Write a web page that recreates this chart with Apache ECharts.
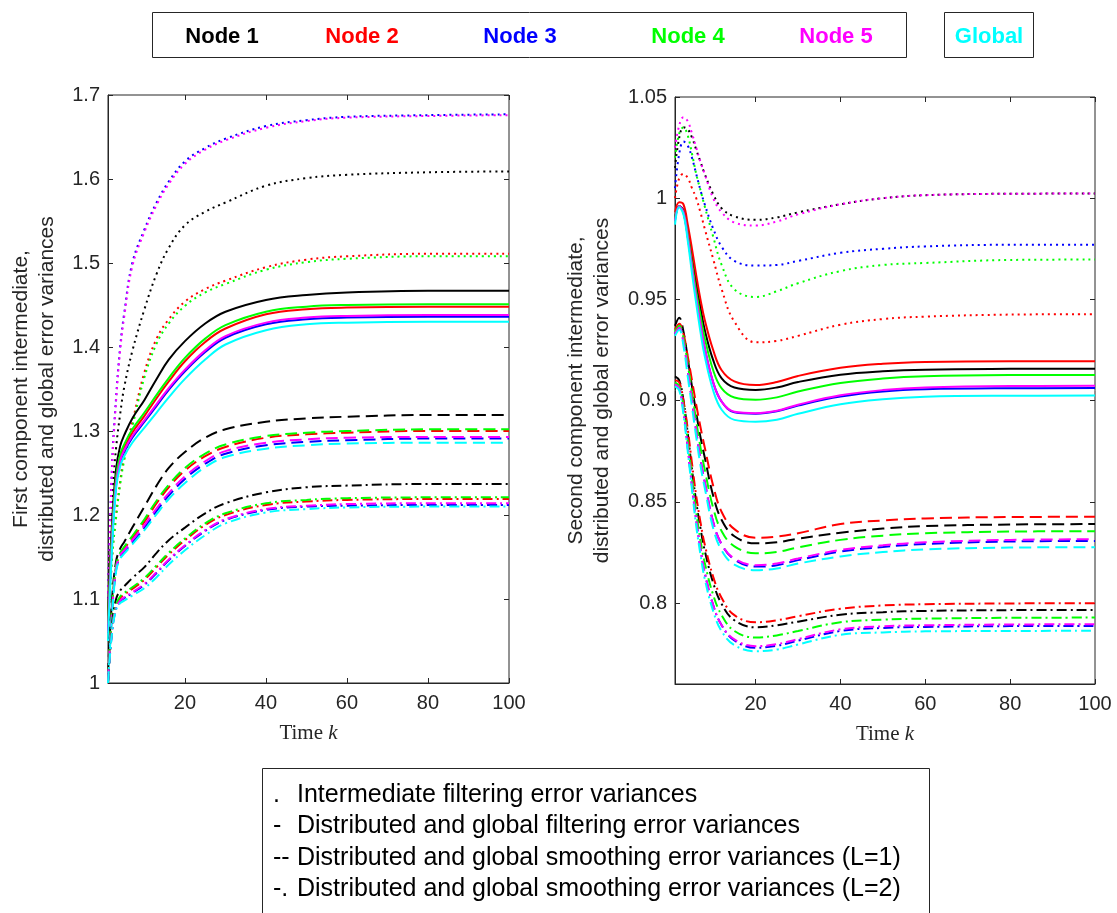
<!DOCTYPE html>
<html>
<head>
<meta charset="utf-8">
<title>Error variances</title>
<script src="https://cdn.jsdelivr.net/npm/echarts@6/dist/echarts.min.js"></script>
<style>
  html, body { margin: 0; padding: 0; background: #fff; }
  #chart { width: 1117px; height: 913px; }
</style>
</head>
<body>
<div id="chart"></div>
<script>
// time instants
const kLeft = [1, 2, 3, 4, 5, 7, 10, 13, 16, 20, 25, 30, 40, 50, 60, 80, 100];
const kRight = [1, 2, 3, 4, 5, 6, 7, 8, 10, 12, 15, 20, 25, 30, 40, 50, 60, 80, 100];

const nodeNames = ['Node 1', 'Node 2', 'Node 3', 'Node 4', 'Node 5', 'Global'];
const nodeColors = ['#000000', '#ff0000', '#0000ff', '#00ff00', '#ff00ff', '#00ffff'];

const xTicks = [20, 40, 60, 80, 100];
const firstYTicks = [1, 1.1, 1.2, 1.3, 1.4, 1.5, 1.6, 1.7];
const secondYTicks = [0.8, 0.85, 0.9, 0.95, 1, 1.05];

// ---- first component (left) ----
// intermediate filtering, nodes 1..5 (dotted)
const firstIntermediate = [
  [1.10, 1.22, 1.28, 1.32, 1.352, 1.395, 1.445, 1.487, 1.518, 1.545, 1.561, 1.572, 1.592, 1.601, 1.605, 1.608, 1.609],
  [1.06, 1.15, 1.20, 1.24, 1.27, 1.31, 1.37, 1.41, 1.433, 1.454, 1.469, 1.479, 1.495, 1.504, 1.508, 1.511, 1.511],
  [1.10, 1.26, 1.34, 1.40, 1.44, 1.50, 1.54, 1.572, 1.597, 1.621, 1.637, 1.648, 1.663, 1.670, 1.674, 1.676, 1.677],
  [1.06, 1.148, 1.197, 1.236, 1.265, 1.305, 1.364, 1.404, 1.428, 1.449, 1.465, 1.475, 1.492, 1.501, 1.505, 1.508, 1.508],
  [1.10, 1.255, 1.336, 1.396, 1.436, 1.496, 1.537, 1.569, 1.594, 1.618, 1.635, 1.646, 1.661, 1.669, 1.673, 1.675, 1.676]
];
// distributed and global filtering (solid), nodes 1..5 + global
const firstFiltering = [
  [1.08, 1.19, 1.255, 1.282, 1.295, 1.315, 1.337, 1.362, 1.385, 1.407, 1.428, 1.442, 1.456, 1.462, 1.465, 1.467, 1.467],
  [1.07, 1.178, 1.242, 1.268, 1.28, 1.298, 1.318, 1.339, 1.359, 1.383, 1.406, 1.422, 1.439, 1.445, 1.447, 1.448, 1.448],
  [1.06, 1.168, 1.236, 1.263, 1.275, 1.292, 1.311, 1.33, 1.349, 1.371, 1.394, 1.411, 1.427, 1.433, 1.435, 1.436, 1.436],
  [1.07, 1.18, 1.245, 1.272, 1.284, 1.302, 1.322, 1.343, 1.363, 1.387, 1.41, 1.426, 1.442, 1.448, 1.45, 1.451, 1.451],
  [1.06, 1.17, 1.238, 1.265, 1.277, 1.294, 1.313, 1.332, 1.351, 1.373, 1.396, 1.413, 1.429, 1.435, 1.437, 1.438, 1.438],
  [1.05, 1.16, 1.232, 1.258, 1.27, 1.286, 1.304, 1.322, 1.34, 1.362, 1.385, 1.403, 1.42, 1.427, 1.429, 1.43, 1.43]
];
// smoothing L=1 (dashed)
const firstSmoothL1 = [
  [1.01, 1.10, 1.145, 1.16, 1.168, 1.185, 1.21, 1.235, 1.256, 1.275, 1.292, 1.302, 1.311, 1.315, 1.317, 1.319, 1.319],
  [1.005, 1.088, 1.138, 1.153, 1.16, 1.172, 1.192, 1.214, 1.233, 1.253, 1.27, 1.281, 1.292, 1.296, 1.298, 1.30, 1.30],
  [1.002, 1.083, 1.135, 1.15, 1.156, 1.167, 1.185, 1.205, 1.223, 1.243, 1.261, 1.273, 1.283, 1.287, 1.289, 1.291, 1.291],
  [1.005, 1.09, 1.14, 1.155, 1.162, 1.175, 1.195, 1.217, 1.236, 1.256, 1.273, 1.284, 1.294, 1.298, 1.30, 1.302, 1.302],
  [1.003, 1.085, 1.137, 1.152, 1.158, 1.17, 1.188, 1.208, 1.226, 1.246, 1.264, 1.276, 1.286, 1.29, 1.292, 1.293, 1.293],
  [1.0, 1.08, 1.133, 1.148, 1.154, 1.165, 1.182, 1.201, 1.219, 1.238, 1.257, 1.269, 1.279, 1.283, 1.285, 1.286, 1.286]
];
// smoothing L=2 (dash-dot)
const firstSmoothL2 = [
  [1.0, 1.07, 1.10, 1.11, 1.115, 1.125, 1.138, 1.155, 1.17, 1.185, 1.202, 1.214, 1.227, 1.233, 1.235, 1.237, 1.237],
  [1.0, 1.064, 1.091, 1.101, 1.105, 1.112, 1.123, 1.138, 1.153, 1.17, 1.188, 1.20, 1.212, 1.216, 1.218, 1.219, 1.219],
  [1.0, 1.061, 1.089, 1.097, 1.101, 1.107, 1.117, 1.131, 1.146, 1.163, 1.181, 1.194, 1.206, 1.21, 1.211, 1.212, 1.212],
  [1.0, 1.065, 1.093, 1.103, 1.107, 1.114, 1.125, 1.14, 1.155, 1.172, 1.19, 1.202, 1.214, 1.218, 1.22, 1.221, 1.221],
  [1.0, 1.062, 1.09, 1.098, 1.102, 1.108, 1.118, 1.132, 1.147, 1.164, 1.182, 1.195, 1.207, 1.211, 1.213, 1.214, 1.214],
  [1.0, 1.06, 1.087, 1.095, 1.098, 1.104, 1.113, 1.126, 1.141, 1.158, 1.176, 1.19, 1.203, 1.207, 1.209, 1.21, 1.21]
];

// ---- second component (right) ----
const secondIntermediate = [
  [1.015, 1.03, 1.035, 1.034, 1.03, 1.024, 1.018, 1.012, 1.002, 0.995, 0.991, 0.9893, 0.9905, 0.993, 0.997, 1.0, 1.0015, 1.0022, 1.0023],
  [1.0, 1.01, 1.012, 1.01, 1.005, 1.0, 0.993, 0.985, 0.97, 0.955, 0.939, 0.9288, 0.9295, 0.932, 0.9375, 0.9403, 0.9415, 0.9425, 0.9427],
  [1.005, 1.022, 1.028, 1.026, 1.02, 1.012, 1.004, 0.997, 0.985, 0.976, 0.969, 0.9667, 0.967, 0.969, 0.973, 0.975, 0.9762, 0.977, 0.977],
  [1.02, 1.032, 1.035, 1.031, 1.022, 1.012, 1.004, 0.996, 0.981, 0.967, 0.955, 0.9512, 0.954, 0.958, 0.964, 0.967, 0.968, 0.9695, 0.9697],
  [1.025, 1.036, 1.04, 1.038, 1.032, 1.025, 1.018, 1.012, 1.0, 0.993, 0.988, 0.9865, 0.9885, 0.992, 0.997, 1.0, 1.0015, 1.0022, 1.0023]
];
const secondFiltering = [
  [0.99, 0.996, 0.994, 0.984, 0.971, 0.958, 0.946, 0.935, 0.92, 0.911, 0.9065, 0.9053, 0.9065, 0.9092, 0.9128, 0.9145, 0.9153, 0.9157, 0.9158],
  [0.993, 0.998, 0.997, 0.987, 0.975, 0.962, 0.95, 0.94, 0.925, 0.915, 0.9095, 0.9077, 0.9092, 0.9122, 0.9162, 0.9182, 0.9191, 0.9195, 0.9195],
  [0.989, 0.996, 0.993, 0.981, 0.966, 0.951, 0.938, 0.926, 0.909, 0.8995, 0.8942, 0.8935, 0.8947, 0.8976, 0.902, 0.9045, 0.9056, 0.9061, 0.9062],
  [0.99, 0.996, 0.993, 0.982, 0.968, 0.954, 0.942, 0.931, 0.915, 0.906, 0.9015, 0.9004, 0.9016, 0.9045, 0.9087, 0.9109, 0.912, 0.9126, 0.9127],
  [0.989, 0.996, 0.993, 0.981, 0.966, 0.951, 0.938, 0.926, 0.909, 0.8995, 0.8945, 0.8938, 0.895, 0.898, 0.9026, 0.9052, 0.9065, 0.9072, 0.9073],
  [0.987, 0.9955, 0.992, 0.979, 0.963, 0.948, 0.934, 0.922, 0.905, 0.8955, 0.8905, 0.8896, 0.8906, 0.8935, 0.8982, 0.9007, 0.9019, 0.9024, 0.9025]
];
const secondSmoothL1 = [
  [0.937, 0.941, 0.934, 0.921, 0.907, 0.894, 0.882, 0.872, 0.853, 0.841, 0.833, 0.8295, 0.83, 0.8318, 0.8347, 0.8368, 0.838, 0.8388, 0.839],
  [0.935, 0.938, 0.933, 0.922, 0.91, 0.898, 0.887, 0.877, 0.858, 0.845, 0.8365, 0.8322, 0.8328, 0.8345, 0.839, 0.8408, 0.8418, 0.8425, 0.8426],
  [0.933, 0.936, 0.929, 0.915, 0.90, 0.885, 0.871, 0.86, 0.84, 0.829, 0.8215, 0.818, 0.8187, 0.8212, 0.8254, 0.8277, 0.8292, 0.8304, 0.8307],
  [0.934, 0.937, 0.931, 0.918, 0.904, 0.89, 0.877, 0.866, 0.847, 0.8355, 0.828, 0.8246, 0.8252, 0.8275, 0.8312, 0.8333, 0.8345, 0.8353, 0.8355],
  [0.933, 0.936, 0.929, 0.915, 0.90, 0.885, 0.871, 0.86, 0.84, 0.829, 0.822, 0.8187, 0.8195, 0.822, 0.8262, 0.8285, 0.83, 0.8312, 0.8315],
  [0.932, 0.935, 0.927, 0.912, 0.897, 0.882, 0.868, 0.857, 0.837, 0.826, 0.819, 0.8162, 0.8171, 0.8195, 0.823, 0.8252, 0.8265, 0.8274, 0.8276]
];
const secondSmoothL2 = [
  [0.912, 0.91, 0.90, 0.884, 0.866, 0.85, 0.837, 0.826, 0.81, 0.7995, 0.7915, 0.788, 0.789, 0.7908, 0.7942, 0.7955, 0.7961, 0.7965, 0.7966],
  [0.91, 0.909, 0.90, 0.886, 0.869, 0.853, 0.84, 0.829, 0.813, 0.8025, 0.794, 0.7905, 0.7915, 0.7935, 0.7972, 0.7988, 0.7994, 0.7998, 0.7999],
  [0.908, 0.906, 0.895, 0.877, 0.858, 0.841, 0.827, 0.815, 0.799, 0.789, 0.7815, 0.7779, 0.7789, 0.7814, 0.7862, 0.7877, 0.7882, 0.7886, 0.7887],
  [0.909, 0.907, 0.897, 0.88, 0.862, 0.845, 0.831, 0.82, 0.804, 0.794, 0.7862, 0.783, 0.784, 0.7862, 0.7905, 0.7918, 0.7923, 0.7927, 0.7928],
  [0.908, 0.906, 0.895, 0.877, 0.858, 0.841, 0.827, 0.815, 0.799, 0.789, 0.782, 0.7787, 0.7797, 0.7822, 0.787, 0.7885, 0.789, 0.7894, 0.7895],
  [0.907, 0.905, 0.893, 0.875, 0.856, 0.838, 0.824, 0.812, 0.796, 0.786, 0.7792, 0.7762, 0.777, 0.7795, 0.7843, 0.7855, 0.786, 0.7862, 0.7863]
];

const axisColor = '#262626';
const sansFont = '"Liberation Sans", Arial, Helvetica, sans-serif';
const serifFont = '"Liberation Serif", "DejaVu Serif", serif';
const dashTypes = {
  dotted: [2, 4],
  solid: 'solid',
  dashed: [12, 6],
  dashdot: [10, 4, 2, 4]
};

function buildSeries(ks, group, style, panel) {
  return group.map((vals, i) => ({
    name: nodeNames[i],
    type: 'line',
    xAxisIndex: panel * 2,
    yAxisIndex: panel * 2,
    data: ks.map((k, j) => [k, vals[j]]),
    symbol: 'none',
    smooth: 0.4,
    silent: true,
    lineStyle: { color: nodeColors[i], width: 2, type: dashTypes[style], cap: 'butt' }
  }));
}

function xAxisPair(gridIndex) {
  const tick = { show: true, inside: true, length: 5, customValues: xTicks, lineStyle: { color: axisColor } };
  return [
    {
      type: 'value', gridIndex, position: 'bottom', min: 1, max: 100,
      axisLine: { show: true, lineStyle: { color: axisColor } },
      axisTick: tick,
      axisLabel: { customValues: xTicks, color: axisColor, fontSize: 20, margin: 10, fontFamily: sansFont },
      splitLine: { show: false },
      name: '{t|Time }{k|k}',
      nameLocation: 'middle',
      nameGap: 40,
      nameTextStyle: {
        rich: {
          t: { fontFamily: serifFont, fontSize: 21, color: axisColor },
          k: { fontFamily: serifFont, fontSize: 21, fontStyle: 'italic', color: axisColor }
        }
      }
    },
    {
      type: 'value', gridIndex, position: 'top', min: 1, max: 100,
      axisLine: { show: false },
      axisTick: tick,
      axisLabel: { show: false },
      splitLine: { show: false }
    }
  ];
}

function yAxisPair(gridIndex, min, max, ticks, title, gap) {
  const tick = { show: true, inside: true, length: 5, customValues: ticks, lineStyle: { color: axisColor } };
  return [
    {
      type: 'value', gridIndex, position: 'left', min, max,
      axisLine: { show: true, lineStyle: { color: axisColor } },
      axisTick: tick,
      axisLabel: { customValues: ticks, color: axisColor, fontSize: 20, margin: 8, fontFamily: sansFont },
      splitLine: { show: false },
      name: title,
      nameLocation: 'middle',
      nameRotate: 90,
      nameGap: gap,
      nameTextStyle: { color: axisColor, fontSize: 21, lineHeight: 26, fontFamily: sansFont }
    },
    {
      type: 'value', gridIndex, position: 'right', min, max,
      axisLine: { show: false },
      axisTick: tick,
      axisLabel: { show: false },
      splitLine: { show: false }
    }
  ];
}

// legend boxes drawn as graphics (real text)
const topLegendX = [222, 362, 520, 688, 836];
const bottomLegendPrefix = ['.', '-', '--', '-.'];
const bottomLegendText = [
  'Intermediate filtering error variances',
  'Distributed and global filtering error variances',
  'Distributed and global smoothing error variances (L=1)',
  'Distributed and global smoothing error variances (L=2)'
];

const graphics = [
  { type: 'rect', shape: { x: 152.5, y: 12.5, width: 754, height: 45 }, style: { fill: '#fff', stroke: axisColor, lineWidth: 1 } },
  { type: 'rect', shape: { x: 944.5, y: 12.5, width: 89, height: 45 }, style: { fill: '#fff', stroke: axisColor, lineWidth: 1 } },
  { type: 'rect', shape: { x: 262.5, y: 768.5, width: 667, height: 170 }, style: { fill: '#fff', stroke: axisColor, lineWidth: 1 } }
];
topLegendX.forEach((x, i) => {
  graphics.push({
    type: 'text', x, y: 37,
    style: { text: nodeNames[i], fill: nodeColors[i], font: 'bold 22px ' + sansFont, textAlign: 'center', textVerticalAlign: 'middle' }
  });
});
graphics.push({
  type: 'text', x: 989, y: 37,
  style: { text: nodeNames[5], fill: nodeColors[5], font: 'bold 22px ' + sansFont, textAlign: 'center', textVerticalAlign: 'middle' }
});
bottomLegendText.forEach((t, i) => {
  const y = 795 + i * 31.5;
  graphics.push({
    type: 'text', x: 273, y,
    style: { text: bottomLegendPrefix[i], fill: '#000', font: '25px ' + sansFont, textVerticalAlign: 'middle' }
  });
  graphics.push({
    type: 'text', x: 297, y,
    style: { text: t, fill: '#000', font: '25px ' + sansFont, textVerticalAlign: 'middle' }
  });
});

const chart = echarts.init(document.getElementById('chart'));
chart.setOption({
  animation: false,
  backgroundColor: '#fff',
  grid: [
    { left: 108, top: 95, width: 401, height: 588, show: true, borderColor: axisColor, borderWidth: 1, containLabel: false },
    { left: 675, top: 97, width: 420, height: 587, show: true, borderColor: axisColor, borderWidth: 1, containLabel: false }
  ],
  xAxis: [...xAxisPair(0), ...xAxisPair(1)],
  yAxis: [
    ...yAxisPair(0, 1, 1.7, firstYTicks, 'First component intermediate,\ndistributed and global error variances', 48),
    ...yAxisPair(1, 0.76, 1.05, secondYTicks, 'Second component intermediate,\ndistributed and global error variances', 60)
  ],
  graphic: graphics,
  series: [
    ...buildSeries(kLeft, firstIntermediate, 'dotted', 0),
    ...buildSeries(kLeft, firstFiltering, 'solid', 0),
    ...buildSeries(kLeft, firstSmoothL1, 'dashed', 0),
    ...buildSeries(kLeft, firstSmoothL2, 'dashdot', 0),
    ...buildSeries(kRight, secondIntermediate, 'dotted', 1),
    ...buildSeries(kRight, secondFiltering, 'solid', 1),
    ...buildSeries(kRight, secondSmoothL1, 'dashed', 1),
    ...buildSeries(kRight, secondSmoothL2, 'dashdot', 1)
  ]
});
</script>
</body>
</html>
